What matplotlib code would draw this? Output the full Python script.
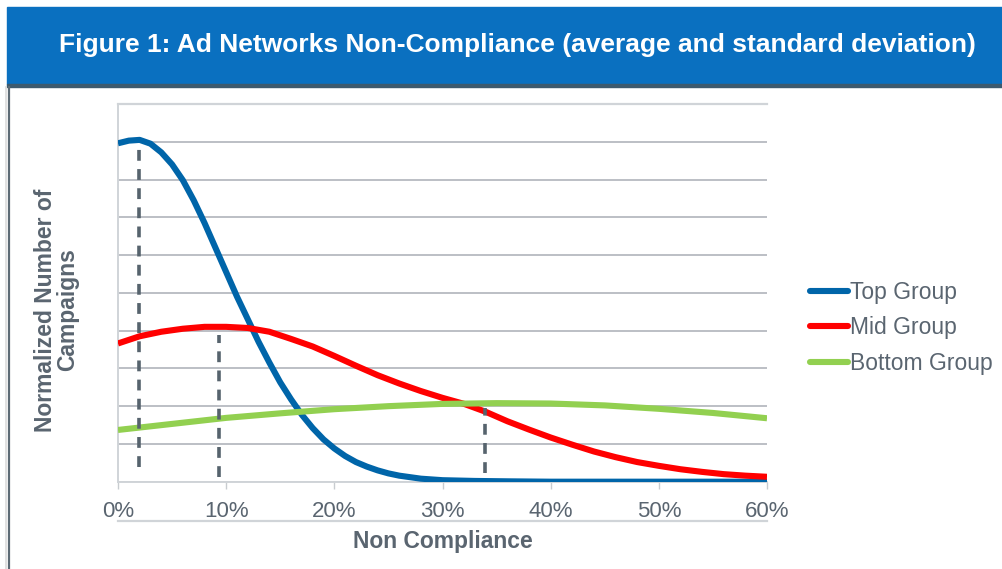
import matplotlib
matplotlib.use("Agg")
import matplotlib.pyplot as plt
from matplotlib.lines import Line2D
from matplotlib.patches import Rectangle

plt.rcParams["font.family"] = ["Liberation Sans", "DejaVu Sans"]

# ---------------------------------------------------------------------------
# data (x in %, y in normalized units 0..10)
# ---------------------------------------------------------------------------
top_x = [0, 1, 2, 3, 4, 5, 6, 7, 8, 9, 10, 11, 12, 13, 14, 15, 16, 17, 18, 19,
         20, 21, 22, 23, 24, 25, 26, 28, 30, 33, 36, 40, 45, 50, 55, 60]
top_y = [8.96, 9.03, 9.05, 8.95, 8.72, 8.40, 7.98, 7.45, 6.85, 6.20, 5.55,
         4.90, 4.30, 3.70, 3.15, 2.63, 2.18, 1.77, 1.42, 1.12, 0.88, 0.68,
         0.52, 0.40, 0.30, 0.22, 0.16, 0.08, 0.04, 0.02, 0.01, 0.0, 0.0, 0.0,
         0.0, 0.0]

mid_x = [0, 2, 4, 6, 8, 10, 12, 14, 16, 18, 20, 22, 24, 26, 28, 30, 32, 34,
         36, 38, 40, 42, 44, 46, 48, 50, 52, 54, 56, 58, 60]
mid_y = [3.66, 3.85, 3.97, 4.05, 4.10, 4.10, 4.07, 3.97, 3.78, 3.58, 3.33,
         3.07, 2.82, 2.60, 2.40, 2.22, 2.06, 1.85, 1.60, 1.38, 1.17, 0.98,
         0.80, 0.65, 0.52, 0.42, 0.33, 0.26, 0.20, 0.16, 0.13]

bot_x = [0, 5, 10, 15, 20, 25, 30, 35, 40, 45, 50, 55, 60]
bot_y = [1.37, 1.53, 1.69, 1.81, 1.92, 2.00, 2.06, 2.08, 2.07, 2.02, 1.93,
         1.82, 1.68]

# group averages (dashed markers): position, top and bottom of the dash
avg_x = [1.9, 9.3, 33.9]
avg_top = [9.0, 3.88, 1.95]
avg_bot = [0.40, 0.13, 0.23]

series = ["Top Group", "Mid Group", "Bottom Group"]
colors = ["#0065a9", "#ff0000", "#92d050"]
xticks = [0, 10, 20, 30, 40, 50, 60]

TEXT = "#5a6570"

W, H = 1003, 569
fig = plt.figure(figsize=(W / 100, H / 100), dpi=100)

# title banner
fig.patches.append(Rectangle((7 / W, 1 - 84 / H), 1 - 7 / W, 77 / H,
                             transform=fig.transFigure, color="#0a70c0",
                             zorder=0))
fig.patches.append(Rectangle((7 / W, 1 - 87 / H), 1 - 7 / W, 3 / H,
                             transform=fig.transFigure, color="#3d5a6e",
                             zorder=0))
fig.text(517 / W, 1 - 45 / H,
         "Figure 1: Ad Networks Non-Compliance (average and standard deviation)",
         color="white", fontsize=19, fontweight="bold", ha="center",
         va="center")
# left frame border
fig.add_artist(Line2D([9 / W, 9 / W], [0, 1 - 87 / H], color="#5d6b75",
                      lw=1.6, transform=fig.transFigure))
fig.add_artist(Line2D([6 / W, 6 / W], [0, 1 - 87 / H], color="#dcdcdc",
                      lw=1.2, transform=fig.transFigure))

ax = fig.add_axes([118 / W, 1 - 481.7 / H, (767 - 118) / W, (481.7 - 104) / H])

for xs, ys, c in zip([top_x, mid_x, bot_x], [top_y, mid_y, bot_y], colors):
    ax.plot(xs, ys, color=c, lw=4.4, solid_capstyle="butt", zorder=3)

for x, t, b in zip(avg_x, avg_top, avg_bot):
    ln, = ax.plot([x, x], [b, t], color="#56636d", lw=2.6, zorder=4,
                  dash_capstyle="butt")
    ln.set_dashes((3.0, 2.3))

ax.set_xlim(0, 60)
ax.set_ylim(0, 10)
ax.set_yticks(range(0, 11))
ax.yaxis.grid(True, color="#a9aeb5", lw=1.1)
ax.set_axisbelow(True)
ax.tick_params(axis="y", length=0, labelleft=False)
ax.set_xticks(xticks)
ax.set_xticklabels([f"{v}%" for v in xticks])
ax.tick_params(axis="x", length=5, width=1, color="#c8ccd0", labelsize=16,
               labelcolor=TEXT, pad=9, direction="out")
for s in ["top", "right"]:
    ax.spines[s].set_visible(False)
for s in ["left", "bottom"]:
    ax.spines[s].set_color("#d0d4d8")
    ax.spines[s].set_linewidth(1.4)
ax.spines["bottom"].set_zorder(1)
# top gridline drawn lighter
ax.axhline(10, color="#d0d4d8", lw=1.6, zorder=2, clip_on=False)

ax.set_xlabel("Non Compliance", fontsize=16.5, fontweight="bold", color=TEXT,
              labelpad=6)
fig.text(57 / W, 1 - 310 / H, "Normalized Number of\nCampaigns", rotation=90,
         fontsize=16.5, fontweight="bold", color=TEXT, ha="center",
         va="center", linespacing=0.95)

# thin rule under the tick labels
fig.add_artist(Line2D([118 / W, 767 / W], [1 - 521 / H, 1 - 521 / H],
                      color="#d0d4d8", lw=1.6, transform=fig.transFigure))

handles = [Line2D([], [], color=c, lw=4.4, solid_capstyle="round")
           for c in colors]
leg = fig.legend(handles, series, loc="center left",
                 bbox_to_anchor=(810 / W, 1 - 328 / H), frameon=False,
                 fontsize=16.5, handlelength=1.65, handletextpad=0.1,
                 labelspacing=0.55, borderpad=0, borderaxespad=0)
for t in leg.get_texts():
    t.set_color(TEXT)

fig.savefig("out.png", dpi=100)
